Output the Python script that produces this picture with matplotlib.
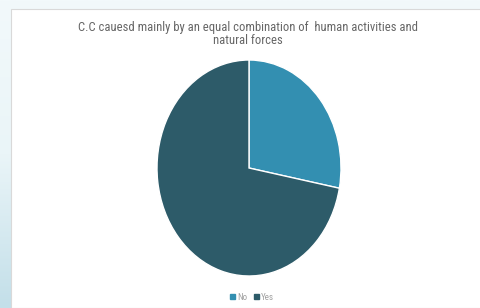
import matplotlib.pyplot as plt
import matplotlib.patches as mpatches
from matplotlib import font_manager
import numpy as np

labels = ['No', 'Yes']
values = [28, 72]
colors = ['#338fb1', '#2d5b69']
title = 'C.C cauesd mainly by an equal combination of  human activities and\nnatural forces'

installed = {f.name for f in font_manager.fontManager.ttflist}
fam = [f for f in ['Roboto Condensed', 'Liberation Sans Narrow', 'Roboto'] if f in installed] + ['DejaVu Sans']

W, H = 481, 308
fig = plt.figure(figsize=(W / 100, H / 100), dpi=100)
fig.patch.set_facecolor('#f2f9fb')

# left strip gradient (light to bluish toward bottom)
bg = fig.add_axes([0, 0, 1, 1], zorder=0)
grad = np.linspace(0, 1, 200).reshape(-1, 1)
bg.imshow(grad, extent=[0, 1, 0, 1], aspect='auto', origin='upper',
          cmap=plt.matplotlib.colors.LinearSegmentedColormap.from_list(
              'g', ['#f2f9fb', '#eaf5f8', '#c3dfe9']))
bg.set_xlim(0, 1)
bg.set_ylim(0, 1)
bg.axis('off')

# white panel
panel_l, panel_t = 11 / W, 1 - 9 / H
bg.add_patch(mpatches.Rectangle((panel_l, 0), 1 - panel_l, panel_t,
                                facecolor='white', edgecolor='#d9d9d9',
                                linewidth=0.8, zorder=2))

# pie axes, stretched vertically
cx, cy, rx, ry = 249, 168, 92, 108
ax = fig.add_axes([(cx - rx) / W, (H - cy - ry) / H, 2 * rx / W, 2 * ry / H], zorder=3)
ax.pie(values, colors=colors, startangle=90, counterclock=False,
       wedgeprops=dict(edgecolor='white', linewidth=1))
ax.set_aspect('auto')
ax.set_xlim(-1, 1)
ax.set_ylim(-1, 1)
ax.axis('off')

fig.text(248 / W, 1 - 34 / H, title, ha='center', va='center', fontsize=9.1,
         color='#666666', linespacing=1.1, family=fam, zorder=4)

handles = [mpatches.Patch(color=c, label=l) for c, l in zip(colors, labels)]
leg = fig.legend(handles=handles, loc='center', bbox_to_anchor=(252 / W, 1 - 297 / H),
                 ncol=2, frameon=False, handlelength=0.55, handleheight=0.55,
                 handletextpad=0.25, columnspacing=0.7, labelcolor='#a0a0a0',
                 prop=dict(family=fam, size=6.5))
leg.set_zorder(5)

fig.savefig('out.png', dpi=100, facecolor=fig.get_facecolor())
